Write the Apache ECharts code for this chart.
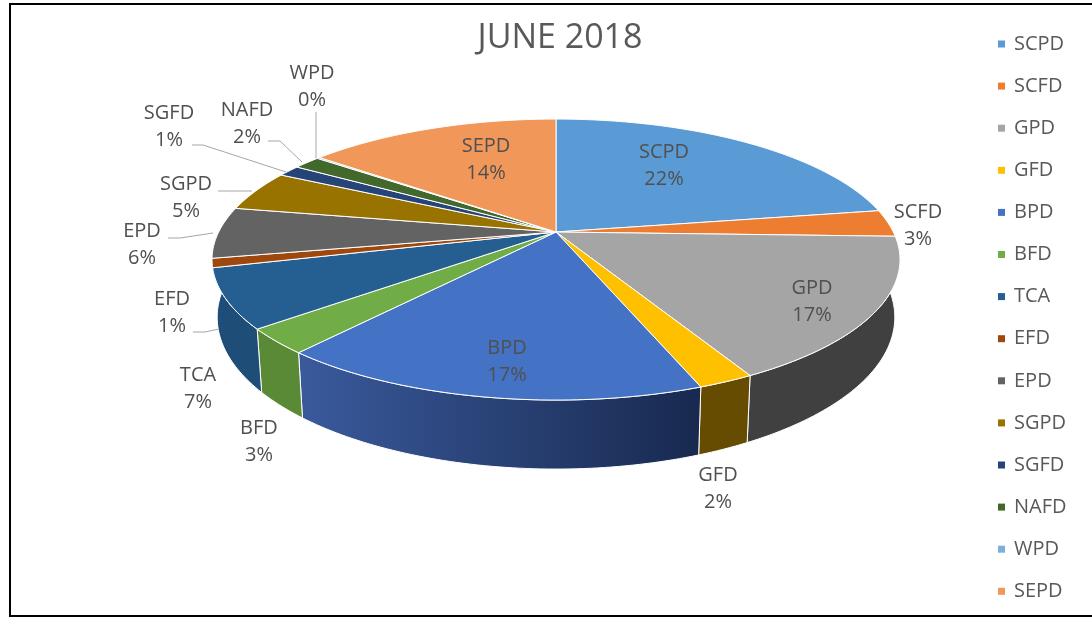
<!DOCTYPE html>
<html>
<head>
<meta charset="utf-8">
<title>JUNE 2018</title>
<style>
    html, body { margin: 0; padding: 0; background: #fff; }
    #echart { width: 1092px; height: 618px; }
</style>
</head>
<body>
<div id="echart"></div>
<script src="https://cdn.jsdelivr.net/npm/echarts@6/dist/echarts.min.js"></script>
<script>
    var names = ['SCPD', 'SCFD', 'GPD', 'GFD', 'BPD', 'BFD', 'TCA', 'EFD', 'EPD', 'SGPD', 'SGFD', 'NAFD', 'WPD', 'SEPD'];
    var values = [22.4, 3.1, 16.6, 2.2, 16.95, 2.9, 6.8, 1.05, 5.9, 4.7, 1.3, 1.55, 0.15, 14.4];
    var topColors = ['#5b9bd5', '#ed7d31', '#a5a5a5', '#ffc000', '#4472c4', '#70ad47', '#255e91', '#9e480e', '#636363', '#997300', '#264478', '#43682b', '#7cafdd', '#f1975a'];
    var wallColors = ['#3e6d98', '#a85722', '#404040', '#654c00', '#3a5a9c', '#5a8a36', '#1e4d78', '#70330a', '#464646', '#6c5200', '#1b3055', '#2f4a1f', '#587c9d', '#ab6b40'];

    /* label centre and leader line for each slice (chart layout, not data) */
    var labelPos = {
        SCPD: [664, 166], SCFD: [918, 226], GPD: [812, 302], GFD: [718, 489],
        BPD: [507, 362], BFD: [259, 442], TCA: [198, 389], EFD: [172, 313],
        EPD: [142, 245], SGPD: [186, 198], SGFD: [169, 127], NAFD: [247, 124],
        WPD: [312, 87], SEPD: [486, 160]
    };
    var leaders = {
        WPD: [[316, 112], [316, 158]],
        NAFD: [[268, 141], [280, 141], [302, 162]],
        SGFD: [[192, 145], [203, 145], [286, 172]],
        SGPD: [[218, 191], [252, 191]],
        EPD: [[168, 238], [180, 238], [213, 233]],
        EFD: [[193, 332], [205, 332], [219, 329]]
    };

    /* the 3D look: a circle seen in perspective, apex is the pie centre */
    var apexX = 556, apexY = 232, radius = 337.3, tilt = 135.1, persp = 0.196, depth = 55.5;
    var fontName = '"Open Sans", sans-serif';

    function rim(deg, lowered) {
        var t = deg * Math.PI / 180;
        var w = 1 + persp * Math.cos(t);
        var x = radius * Math.sin(t) / w;
        var y = -tilt * Math.cos(t) / w;
        if (lowered) {
            return [apexX + x * 0.985, apexY + y + depth / w];
        }
        return [apexX + x, apexY + y];
    }

    function arc(from, to, lowered) {
        var pts = [];
        var n = Math.max(2, Math.ceil(Math.abs(to - from)));
        for (var i = 0; i <= n; i++) {
            pts.push(rim(from + (to - from) * i / n, lowered));
        }
        return pts;
    }

    var total = 0;
    values.forEach(function (v) { total += v; });

    function startAngle(idx) {
        var sum = 0;
        for (var i = 0; i < idx; i++) {
            sum += values[i];
        }
        return sum / total * 360;
    }

    function renderSlice(idx, params, api) {
        var value = api.value(0);
        var from = startAngle(idx);
        var to = from + value / total * 360;
        var name = names[idx];
        var children = [];

        // wall, only the front of the rim can show. TCA is the last one seen
        // on the left, it runs on round the bend so nothing else peeks out
        var wallFrom = Math.max(from, 90), wallTo = Math.min(to, 270);
        if (name === 'TCA') {
            wallTo = 270;
        }
        if (wallTo > wallFrom && name !== 'EFD' && name !== 'EPD') {
            var wallFill = wallColors[idx];
            if (name === 'BPD') {
                wallFill = new echarts.graphic.LinearGradient(0, 0, 1, 0, [
                    {offset: 0, color: '#3a5a9c'},
                    {offset: 1, color: '#18294f'}
                ]);
            }
            children.push({
                type: 'polygon',
                z2: 10,
                shape: {points: arc(wallFrom, wallTo, false).concat(arc(wallTo, wallFrom, true))},
                style: {fill: wallFill, stroke: '#fff', lineWidth: 1}
            });
        }

        children.push({
            type: 'polygon',
            z2: 20,
            shape: {points: [[apexX, apexY]].concat(arc(from, to, false))},
            style: {fill: topColors[idx], stroke: '#fff', lineWidth: 1}
        });

        if (leaders[name]) {
            children.push({
                type: 'polyline',
                z2: 30,
                shape: {points: leaders[name]},
                style: {fill: null, stroke: '#a6a6a6', lineWidth: 1}
            });
        }

        children.push({
            type: 'text',
            z2: 40,
            style: {
                x: labelPos[name][0],
                y: labelPos[name][1],
                text: name + '\n' + Math.round(value / total * 100) + '%',
                align: 'center',
                verticalAlign: 'middle',
                fill: '#505050',
                fontFamily: fontName,
                fontSize: 20,
                lineHeight: 27
            }
        });

        return {type: 'group', children: children};
    }

    var series = names.map(function (name, idx) {
        return {
            name: name,
            type: 'custom',
            coordinateSystem: 'none',
            silent: true,
            itemStyle: {color: topColors[idx]},
            data: [[values[idx]]],
            renderItem: function (params, api) {
                return renderSlice(idx, params, api);
            }
        };
    });

    var app = echarts.init(document.getElementById('echart'));
    app.setOption({
        animation: false,
        backgroundColor: '#fff',
        title: {
            text: 'JUNE 2018',
            left: 555,
            textAlign: 'center',
            top: 16,
            textStyle: {color: '#595959', fontFamily: fontName, fontSize: 34, fontWeight: 'normal'}
        },
        legend: {
            orient: 'vertical',
            left: 993,
            top: 29,
            selectedMode: false,
            icon: 'rect',
            itemWidth: 7,
            itemHeight: 7,
            itemGap: 22.1,
            textStyle: {color: '#595959', fontFamily: fontName, fontSize: 20, padding: [0, 0, 0, 4]},
            data: names
        },
        graphic: [{
            type: 'rect',
            silent: true,
            shape: {x: 10, y: 4, width: 1110, height: 612},
            style: {fill: null, stroke: '#000', lineWidth: 2}
        }],
        series: series
    });
</script>
</body>
</html>
